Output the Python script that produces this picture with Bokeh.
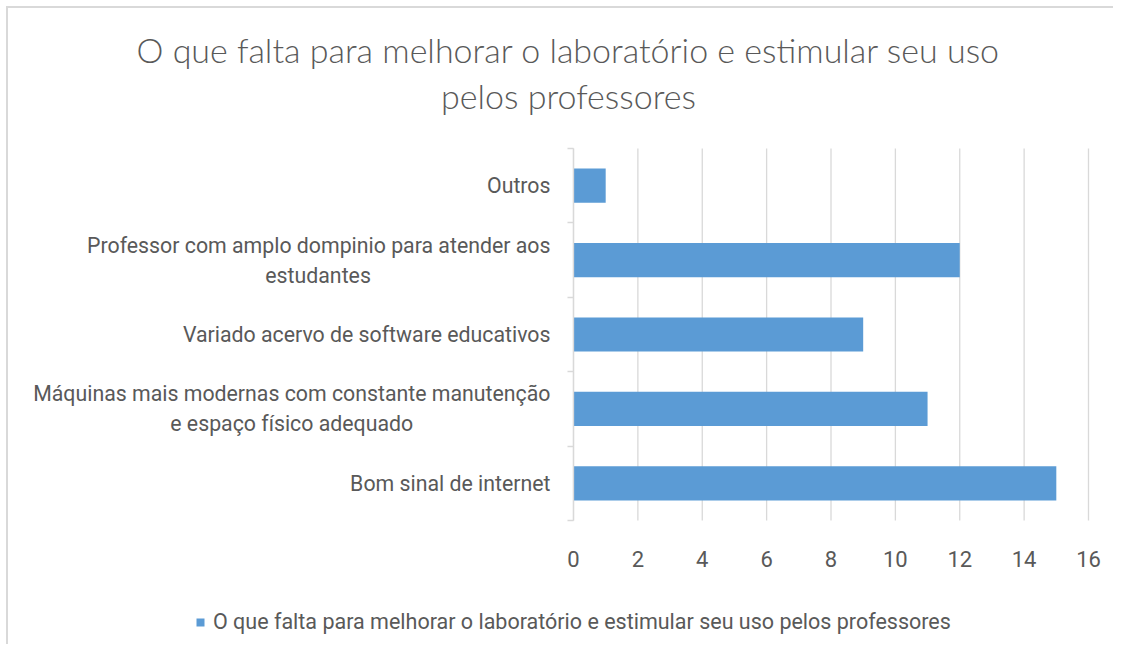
from bokeh.plotting import figure
from bokeh.models import FixedTicker, Label, Legend, LegendItem, ColumnDataSource, Range1d
from bokeh.embed import file_html
from bokeh.resources import INLINE

categories = [
    "Bom sinal de internet",
    "Máquinas mais modernas com constante manutenção\ne espaço físico adequado",
    "Variado acervo de software educativos",
    "Professor com amplo dompinio para atender aos\nestudantes",
    "Outros",
]
values = [15, 11, 9, 12, 1]
x_ticks = [0, 2, 4, 6, 8, 10, 12, 14, 16]
series_name = "O que falta para melhorar o laboratório e estimular seu uso pelos professores"
title_text = "O que falta para melhorar o laboratório e estimular seu uso\npelos professores"

LABEL_FONT = "Roboto"
TITLE_FONT = "'Lato Light', Lato"
TEXT_COLOR = "#595959"
GRID = "#D9D9D9"
BAR = "#5B9BD5"

W, H = 1107, 638
# pixel geometry of the plot area inside the figure
PX_LEFT, PX_RIGHT, PX_TOP, PX_BOTTOM = 565, 1080, 140, 512

# approximate Roboto advance widths (em), used only to centre wrapped label lines
_EM = {" ": 0.248, "\u00a0": 0.248, "a": 0.531, "á": 0.531, "ã": 0.531, "b": 0.547,
       "c": 0.511, "ç": 0.511, "d": 0.549, "e": 0.517, "f": 0.338, "g": 0.547,
       "h": 0.537, "i": 0.237, "í": 0.237, "l": 0.237, "m": 0.855, "n": 0.538,
       "o": 0.556, "p": 0.547, "q": 0.552, "r": 0.331, "s": 0.503, "t": 0.319,
       "u": 0.537, "v": 0.472, "M": 0.852, "P": 0.617}


def _width(s):
    return sum(_EM.get(ch, 0.55) for ch in s)


def center_lines(label):
    lines = label.split("\n")
    longest = max(_width(l) for l in lines)
    return "\n".join(l + "\u00a0" * int(round((longest - _width(l)) / 2 / 0.24)) for l in lines)


n = len(categories)
pos = [i + 0.5 for i in range(n)]
src = ColumnDataSource(dict(y=pos, v=values))

xmin, xmax = x_ticks[0], x_ticks[-1]
sx = (PX_RIGHT - PX_LEFT) / (xmax - xmin)
sy = (PX_BOTTOM - PX_TOP) / n
x_range = Range1d(xmin - PX_LEFT / sx, xmax + (W - PX_RIGHT) / sx)
y_range = Range1d(-(H - PX_BOTTOM) / sy, n + PX_TOP / sy)

p = figure(width=W, height=H, title=None, x_range=x_range, y_range=y_range,
           output_backend="svg", toolbar_location=None,
           min_border=0, min_border_left=0, min_border_right=0,
           min_border_top=0, min_border_bottom=0)
p.styles = {"margin-left": "6px", "margin-top": "6px",
            "border-left": "2px solid #D9D9D9", "border-top": "2px solid #D9D9D9"}
p.outline_line_color = None
p.xgrid.visible = False
p.ygrid.visible = False

# vertical grid lines over the plot area only
p.segment(x0=x_ticks, y0=[0] * len(x_ticks), x1=x_ticks, y1=[n] * len(x_ticks),
          line_color=GRID, line_width=1.3)

r = p.hbar(y="y", right="v", left=0, height=0.46, source=src,
           fill_color=BAR, line_color=None)

xa = p.xaxis[0]
xa.fixed_location = 0
xa.bounds = (xmin, xmax)
xa.ticker = FixedTicker(ticks=x_ticks)
xa.axis_line_color = None
xa.major_tick_line_color = None
xa.minor_tick_line_color = None
xa.major_label_text_font = LABEL_FONT
xa.major_label_text_font_size = "22px"
xa.major_label_text_color = TEXT_COLOR
xa.major_label_standoff = 24

ya = p.yaxis[0]
ya.fixed_location = 0
ya.bounds = (0, n)
ya.ticker = FixedTicker(ticks=pos, minor_ticks=list(range(n + 1)))
ya.major_label_overrides = {pp: center_lines(c) for pp, c in zip(pos, categories)}
ya.axis_line_color = GRID
ya.axis_line_width = 1.3
ya.major_tick_line_color = None
ya.minor_tick_line_color = GRID
ya.minor_tick_line_width = 1.3
ya.minor_tick_out = 6
ya.minor_tick_in = 0
ya.major_label_text_font = LABEL_FONT
ya.major_label_text_font_size = "21.3px"
ya.major_label_text_color = TEXT_COLOR
ya.major_label_standoff = 17

title = Label(x=560, y=H - 64, x_units="screen", y_units="screen", text=title_text,
              text_align="center", text_baseline="middle",
              text_font=TITLE_FONT, text_font_size="34px", text_color=TEXT_COLOR,
              text_line_height=1.13)
p.add_layout(title)

legend = Legend(items=[LegendItem(label=series_name, renderers=[r])],
                location=(187, 12), orientation="horizontal",
                glyph_width=10, glyph_height=10, label_standoff=8,
                label_text_font=LABEL_FONT, label_text_font_size="21.5px",
                label_text_color=TEXT_COLOR, border_line_color=None,
                background_fill_alpha=0, padding=0, margin=0)
p.add_layout(legend)

open("out.html", "w").write(file_html(p, INLINE))
